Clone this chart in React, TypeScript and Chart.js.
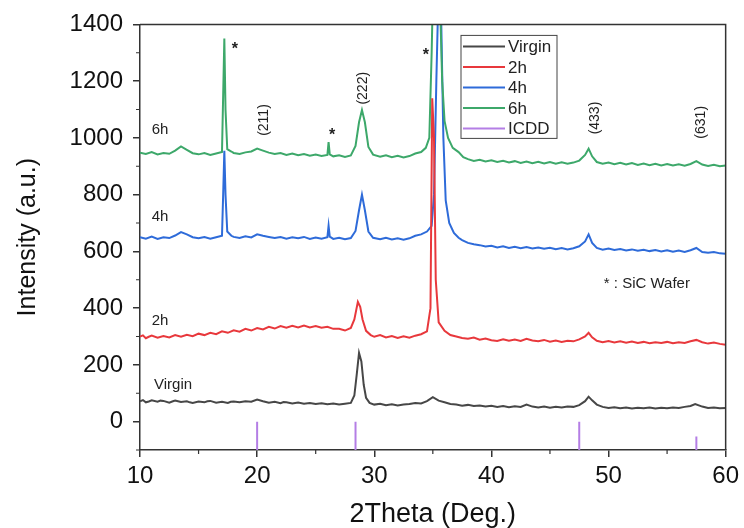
import { useEffect, useRef } from "react";
import { Chart, registerables } from "chart.js";

Chart.register(...registerables);

const FONT = "'Liberation Sans', Arial, sans-serif";

const seriesNames = ["Virgin", "2h", "4h", "6h", "ICDD"];
const seriesColors = ["#474747", "#e8383c", "#2e6bd9", "#3da86a", "#b47ee5"];

const virgin: number[][] = [
  [10,72],[10.25,76],[10.5,68],[10.75,71],[11,75],[11.5,70],[11.75,74],[12,73],[12.5,67],[12.75,71],[13,74],[13.5,69],[14,72],[14.25,68],[14.5,66],[15,71],[15.5,68],[15.75,72],[16,73],[16.5,67],[17,70],[17.5,66],[17.75,70],[18,71],[18.5,68],[19,72],[19.5,70],[20,78],[20.5,72],[21,67],[21.5,70],[22,65],[22.25,69],[22.5,68],[23,64],[23.5,67],[24,63],[24.5,66],[25,62],[25.5,65],[26,61],[26.5,64],[27,60],[27.5,63],[28,66],[28.3,92],[28.5,165],[28.7,242],[28.9,212],[29.1,130],[29.3,84],[29.6,66],[30,60],[30.5,63],[31,58],[31.5,61],[32,57],[32.5,60],[33,62],[33.5,66],[34,64],[34.5,72],[35,86],[35.5,74],[36,68],[36.5,62],[37,60],[37.5,56],[38,59],[38.5,55],[39,57],[39.5,53],[40,56],[40.5,52],[41,55],[41.5,51],[42,54],[42.5,52],[43,60],[43.5,53],[44,50],[44.5,53],[45,49],[45.5,52],[46,50],[46.5,53],[47,52],[47.5,58],[48,72],[48.3,88],[48.6,75],[49,60],[49.5,52],[50,48],[50.5,51],[51,47],[51.5,50],[52,46],[52.5,49],[53,47],[53.5,50],[54,46],[54.5,49],[55,47],[55.5,50],[56,48],[56.5,52],[57,55],[57.4,62],[58,53],[58.5,48],[59,50],[59.5,47],[60,48]
];

const h2: number[][] = [
  [10,300],[10.25,304],[10.5,294],[10.75,299],[11,303],[11.5,296],[12,302],[12.5,297],[13,305],[13.5,299],[14,306],[14.5,301],[15,310],[15.5,305],[16,313],[16.5,308],[17,318],[17.5,313],[18,322],[18.5,317],[19,327],[19.5,321],[20,330],[20.5,325],[21,334],[21.5,328],[22,337],[22.5,331],[23,338],[23.5,332],[24,339],[24.5,332],[25,337],[25.5,331],[26,334],[26.5,327],[27,327],[27.5,321],[28,330],[28.3,360],[28.6,422],[28.8,405],[29,360],[29.3,320],[29.7,305],[30,299],[30.5,305],[31,297],[31.5,302],[32,295],[32.5,301],[33,296],[33.5,303],[34,308],[34.5,318],[34.8,400],[34.95,1140],[35.1,1000],[35.25,500],[35.5,350],[36,320],[36.5,305],[37,300],[37.5,295],[38,292],[38.5,296],[39,289],[39.5,293],[40,287],[40.5,284],[41,290],[41.5,285],[42,289],[42.5,284],[43,292],[43.5,286],[44,283],[44.5,288],[45,282],[45.5,286],[46,281],[46.5,285],[47,283],[47.5,290],[48,300],[48.3,313],[48.6,297],[49,285],[49.5,280],[50,284],[50.5,279],[51,283],[51.5,278],[52,282],[52.5,277],[53,281],[53.5,276],[54,280],[54.5,277],[55,281],[55.5,276],[56,280],[56.5,277],[57,283],[57.5,288],[58,280],[58.5,275],[59,279],[59.5,274],[60,271]
];

const h4: number[][] = [
  [10,650],[10.5,645],[11,652],[11.5,644],[12,650],[12.5,647],[13,656],[13.5,668],[14,660],[14.5,650],[15,646],[15.5,651],[16,645],[16.5,650],[17,655],[17.1,800],[17.2,955],[17.3,800],[17.45,670],[17.8,655],[18,651],[18.5,647],[19,653],[19.5,649],[20,660],[20.5,655],[21,651],[21.5,647],[22,651],[22.5,645],[23,650],[23.5,646],[24,651],[24.5,644],[25,649],[25.5,645],[26,650],[26.1,690],[26.2,652],[26.5,644],[27,648],[27.5,643],[28,647],[28.4,672],[28.7,745],[28.95,800],[29.2,745],[29.5,670],[29.9,648],[30.5,643],[31,648],[31.5,642],[32,646],[32.5,641],[33,646],[33.5,655],[34,660],[34.5,670],[34.9,690],[35.1,800],[35.3,1200],[35.5,1550],[35.7,1450],[35.9,1000],[36.1,780],[36.4,700],[36.8,665],[37.2,648],[37.5,640],[38,630],[38.5,625],[39,622],[39.5,617],[40,620],[40.5,614],[41,618],[41.5,612],[42,616],[42.5,611],[43,615],[43.5,610],[44,614],[44.5,609],[45,613],[45.5,608],[46,612],[46.5,607],[47,611],[47.5,618],[48,635],[48.3,660],[48.6,630],[49,612],[49.5,606],[50,610],[50.5,605],[51,608],[51.5,603],[52,607],[52.5,602],[53,606],[53.5,601],[54,605],[54.5,600],[55,604],[55.5,599],[56,603],[56.5,598],[57,604],[57.5,612],[58,598],[58.5,595],[59,598],[59.5,593],[60,592]
];

const h6: number[][] = [
  [10,948],[10.5,943],[11,950],[11.5,942],[12,947],[12.5,944],[13,955],[13.5,970],[14,958],[14.5,946],[15,942],[15.5,947],[16,940],[16.5,945],[17,950],[17.1,1150],[17.2,1350],[17.3,1100],[17.45,960],[17.8,952],[18,947],[18.5,943],[19,949],[19.5,952],[20,962],[20.5,955],[21,948],[21.5,943],[22,947],[22.5,940],[23,945],[23.5,939],[24,943],[24.5,937],[25,941],[25.5,936],[26,940],[26.1,985],[26.2,942],[26.5,935],[27,939],[27.5,933],[28,938],[28.4,972],[28.7,1055],[28.95,1098],[29.2,1055],[29.5,968],[29.9,941],[30.5,934],[31,939],[31.5,932],[32,937],[32.5,931],[33,936],[33.5,945],[34,950],[34.4,965],[34.7,1000],[34.9,1300],[35.1,1700],[35.4,1700],[35.6,1500],[35.8,1200],[36,1060],[36.3,1000],[36.7,965],[37.2,950],[37.6,932],[38,925],[38.5,919],[39,923],[39.5,917],[40,921],[40.5,915],[41,919],[41.5,913],[42,918],[42.5,912],[43,917],[43.5,911],[44,916],[44.5,910],[45,915],[45.5,909],[46,914],[46.5,909],[47,913],[47.5,920],[48,940],[48.3,962],[48.6,935],[49,915],[49.5,909],[50,913],[50.5,907],[51,912],[51.5,906],[52,911],[52.5,905],[53,910],[53.5,904],[54,909],[54.5,903],[55,908],[55.5,903],[56,907],[56.5,902],[57,908],[57.5,918],[58,906],[58.5,901],[59,905],[59.5,900],[60,903]
];

const icddPositions = [20, 28.4, 47.5, 57.5];
const icddTops = [0, 0, 0, -52];
const icddBase = -100;

const xTicks = [10, 20, 30, 40, 50, 60];
const xMinor = [15, 25, 35, 45, 55];
const yTicks = [0, 200, 400, 600, 800, 1000, 1200, 1400];
const yMinor = [-100, 100, 300, 500, 700, 900, 1100, 1300];

const curveLabels = ["6h", "4h", "2h", "Virgin"];
const curveLabelX = [11, 11, 11, 11.2];
const curveLabelY = [1028, 723, 354, 128];

const peakLabels = ["(211)", "(222)", "(433)", "(631)"];
const peakLabelX = [20.6, 29.05, 48.9, 57.9];
const peakLabelY = [1063, 1175, 1070, 1055];

const starX = [18.1, 26.4, 34.4];
const starY = [1326, 1021, 1305];

const noteText = "* : SiC Wafer";
const noteX = 49.6;
const noteY = 484;

const toPts = (arr: number[][]) => arr.map(([x, y]) => ({ x, y }));

const decorPlugin = {
  id: "decor",
  afterDraw(chart: any) {
    const { ctx, chartArea: ca, scales } = chart;
    const xs = scales.x;
    const ys = scales.y;
    ctx.save();
    ctx.strokeStyle = "#333";
    ctx.lineWidth = 1.5;
    ctx.beginPath();
    ctx.moveTo(ca.left, ca.top);
    ctx.lineTo(ca.right, ca.top);
    ctx.lineTo(ca.right, ca.bottom);
    ctx.stroke();
    ctx.lineWidth = 1.2;
    ctx.beginPath();
    yMinor.forEach((v) => {
      const y = ys.getPixelForValue(v);
      ctx.moveTo(ca.left - 4, y);
      ctx.lineTo(ca.left, y);
    });
    xMinor.forEach((v) => {
      const x = xs.getPixelForValue(v);
      ctx.moveTo(x, ca.bottom);
      ctx.lineTo(x, ca.bottom + 4);
    });
    ctx.stroke();

    ctx.fillStyle = "#222";
    ctx.textBaseline = "middle";
    ctx.textAlign = "left";
    ctx.font = `15px ${FONT}`;
    curveLabels.forEach((t, i) => {
      ctx.fillText(t, xs.getPixelForValue(curveLabelX[i]), ys.getPixelForValue(curveLabelY[i]));
    });
    ctx.font = `14px ${FONT}`;
    ctx.textAlign = "center";
    peakLabels.forEach((t, i) => {
      ctx.save();
      ctx.translate(xs.getPixelForValue(peakLabelX[i]), ys.getPixelForValue(peakLabelY[i]));
      ctx.rotate(-Math.PI / 2);
      ctx.fillText(t, 0, 0);
      ctx.restore();
    });
    ctx.font = `bold 16px ${FONT}`;
    starX.forEach((sx, i) => {
      ctx.fillText("*", xs.getPixelForValue(sx), ys.getPixelForValue(starY[i]) + 4);
    });
    ctx.font = `15px ${FONT}`;
    ctx.textAlign = "left";
    ctx.fillText(noteText, xs.getPixelForValue(noteX), ys.getPixelForValue(noteY));

    const lx = ca.left + 321;
    const ly = ca.top + 11;
    const lw = 96;
    const lh = 103;
    ctx.strokeStyle = "#444";
    ctx.lineWidth = 1;
    ctx.strokeRect(lx, ly, lw, lh);
    ctx.font = `17px ${FONT}`;
    ctx.textAlign = "left";
    seriesNames.forEach((name, i) => {
      const yy = ly + 11 + i * 20.5;
      ctx.strokeStyle = seriesColors[i];
      ctx.lineWidth = 2;
      ctx.beginPath();
      ctx.moveTo(lx + 2, yy);
      ctx.lineTo(lx + 44, yy);
      ctx.stroke();
      ctx.fillStyle = "#222";
      ctx.fillText(name, lx + 47, yy + 1);
    });
    ctx.restore();
  },
};

export default function App() {
  const ref = useRef<HTMLCanvasElement>(null);
  useEffect(() => {
    document.body.style.margin = "0";
    const canvas = ref.current!;
    const icddData: any[] = [];
    icddPositions.forEach((p, i) => {
      icddData.push({ x: p, y: icddBase }, { x: p, y: icddTops[i] }, { x: p, y: null });
    });
    const chart = new Chart(canvas, {
      type: "line",
      data: {
        datasets: [
          { label: seriesNames[0], data: toPts(virgin), borderColor: seriesColors[0], order: 3 },
          { label: seriesNames[1], data: toPts(h2), borderColor: seriesColors[1], order: 0 },
          { label: seriesNames[2], data: toPts(h4), borderColor: seriesColors[2], order: 2 },
          { label: seriesNames[3], data: toPts(h6), borderColor: seriesColors[3], order: 1 },
          { label: seriesNames[4], data: icddData, borderColor: seriesColors[4], order: 4, spanGaps: false, borderWidth: 2 },
        ] as any,
      },
      options: {
        animation: false,
        responsive: false,
        devicePixelRatio: 1,
        layout: { padding: { top: 23, right: 17, left: 0, bottom: 0 } },
        plugins: { legend: { display: false }, tooltip: { enabled: false } },
        elements: { point: { radius: 0 }, line: { borderWidth: 2, tension: 0 } },
        scales: {
          x: {
            type: "linear",
            min: 10,
            max: 60,
            afterBuildTicks: (s: any) => { s.ticks = xTicks.map((v) => ({ value: v })); },
            afterFit: (s: any) => { s.height = 78; },
            grid: { display: true, drawOnChartArea: false, drawTicks: true, tickLength: 7, color: "#333", lineWidth: 1.5 },
            border: { display: true, color: "#333", width: 1.5 },
            ticks: { font: { family: FONT, size: 24 }, color: "#111", padding: 5, maxRotation: 0, autoSkip: false, callback: (v: any) => String(v) },
            title: { display: true, text: "2Theta (Deg.)", font: { family: FONT, size: 27, lineHeight: 1 }, color: "#111", padding: { top: 0, bottom: 0 } },
          },
          y: {
            type: "linear",
            min: -100,
            max: 1400,
            afterBuildTicks: (s: any) => { s.ticks = yTicks.map((v) => ({ value: v })); },
            afterFit: (s: any) => { s.width = 140; },
            grid: { display: true, drawOnChartArea: false, drawTicks: true, tickLength: 7, color: "#333", lineWidth: 1.5 },
            border: { display: true, color: "#333", width: 1.5 },
            ticks: { font: { family: FONT, size: 24 }, color: "#111", padding: 10, autoSkip: false, callback: (v: any) => String(v) },
            title: { display: true, text: "Intensity (a.u.)", font: { family: FONT, size: 25, lineHeight: 1 }, color: "#111", padding: { top: 16, bottom: 0 } },
          },
        },
      },
      plugins: [decorPlugin],
    } as any);
    return () => chart.destroy();
  }, []);
  return <canvas ref={ref} width={744} height={528} style={{ display: "block" }} />;
}
